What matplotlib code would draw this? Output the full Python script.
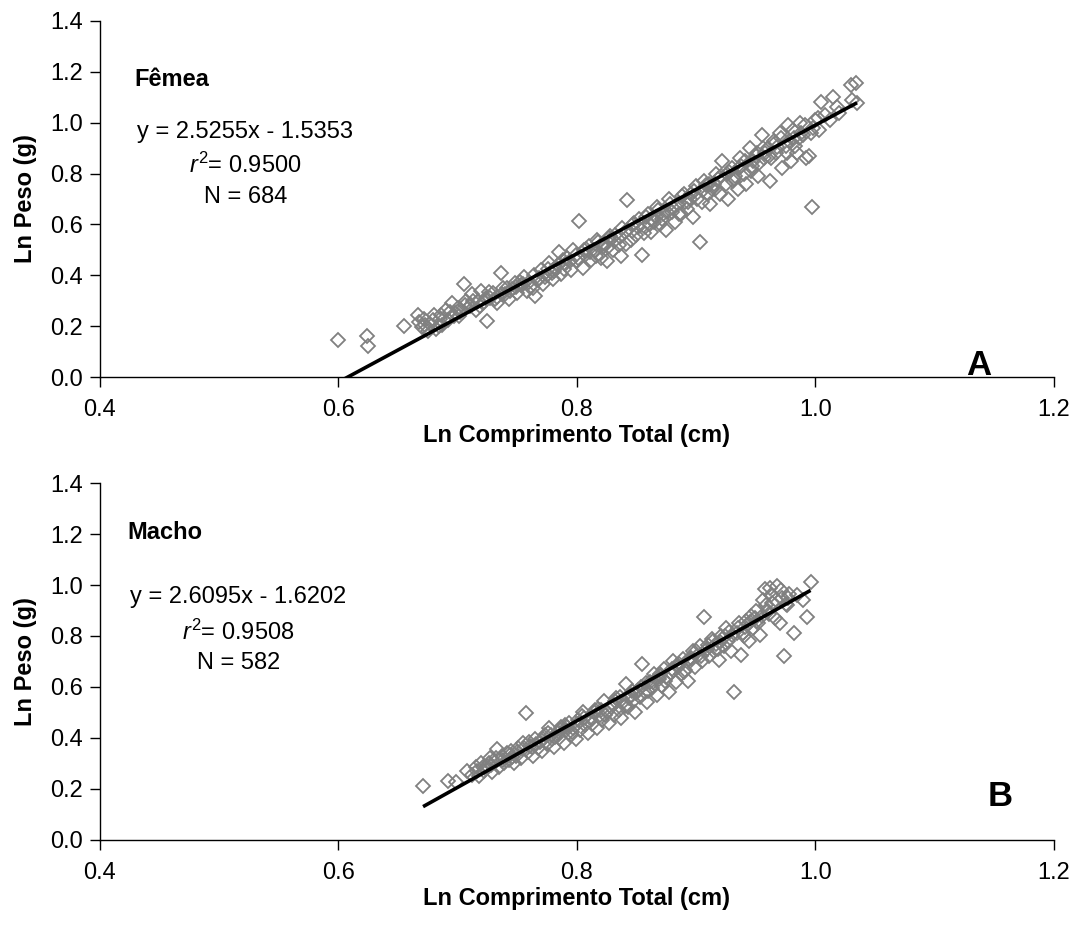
import matplotlib
matplotlib.use("Agg")
import matplotlib.pyplot as plt
import numpy as np

plt.rcParams["font.family"] = ["Liberation Sans", "DejaVu Sans"]
plt.rcParams["mathtext.fontset"] = "custom"
plt.rcParams["mathtext.rm"] = "Liberation Sans"
plt.rcParams["mathtext.it"] = "Liberation Sans:italic"

# Fêmea (A)
femea_x = [0.600, 0.624, 0.625, 0.655, 0.667, 0.668, 0.670, 0.672, 0.675, 0.677,
           0.680, 0.682, 0.685, 0.687, 0.690, 0.692, 0.695, 0.697, 0.700, 0.702,
           0.705, 0.707, 0.710, 0.712, 0.715, 0.717, 0.720, 0.722, 0.725, 0.727,
           0.730, 0.733, 0.736, 0.738, 0.740, 0.743, 0.746, 0.748, 0.750, 0.753,
           0.756, 0.758, 0.760, 0.763, 0.765, 0.768, 0.770, 0.772, 0.775, 0.777,
           0.780, 0.782, 0.785, 0.787, 0.790, 0.792, 0.795, 0.797, 0.800, 0.802,
           0.805, 0.807, 0.810, 0.812, 0.815, 0.817, 0.820, 0.822, 0.825, 0.827,
           0.830, 0.832, 0.835, 0.837, 0.840, 0.842, 0.845, 0.847, 0.850, 0.852,
           0.855, 0.857, 0.860, 0.862, 0.865, 0.867, 0.870, 0.872, 0.875, 0.877,
           0.880, 0.882, 0.885, 0.887, 0.890, 0.892, 0.895, 0.897, 0.900, 0.903,
           0.905, 0.907, 0.910, 0.912, 0.915, 0.917, 0.920, 0.922, 0.925, 0.927,
           0.930, 0.932, 0.935, 0.937, 0.940, 0.942, 0.945, 0.947, 0.950, 0.952,
           0.955, 0.957, 0.960, 0.962, 0.965, 0.967, 0.970, 0.972, 0.975, 0.977,
           0.980, 0.982, 0.985, 0.987, 0.990, 0.992, 0.995, 0.997, 1.000, 1.003,
           1.005, 1.008, 1.012, 1.015, 1.018, 1.020, 1.030, 1.034, 1.031, 1.035,
           0.684, 0.698, 0.711, 0.724, 0.741, 0.752, 0.764, 0.776, 0.788, 0.799,
           0.808, 0.818, 0.828, 0.838, 0.848, 0.858, 0.868, 0.878, 0.888, 0.898,
           0.908, 0.918, 0.928, 0.938, 0.948, 0.958, 0.968, 0.978, 0.988, 0.998,
           0.733, 0.781, 0.823, 0.863, 0.893, 0.913, 0.933, 0.953, 0.963, 0.983,
           0.673, 0.679, 0.686, 0.694, 0.701, 0.706, 0.713, 0.719, 0.726, 0.731,
           0.737, 0.744, 0.749, 0.755, 0.761, 0.767, 0.773, 0.779, 0.784, 0.789,
           0.794, 0.801, 0.806, 0.811, 0.816, 0.821, 0.826, 0.831, 0.836, 0.841,
           0.846, 0.851, 0.856, 0.861, 0.866, 0.871, 0.876, 0.881, 0.886, 0.891,
           0.896, 0.901, 0.906, 0.911, 0.916, 0.921, 0.926, 0.931, 0.936, 0.941,
           0.946, 0.951, 0.956, 0.961, 0.966, 0.971, 0.976, 0.981, 0.986, 0.991,
           0.996, 1.002]
femea_y = [0.145, 0.160, 0.122, 0.200, 0.243, 0.215, 0.195, 0.228, 0.180, 0.210,
           0.245, 0.190, 0.230, 0.205, 0.262, 0.225, 0.290, 0.240, 0.270, 0.255,
           0.365, 0.300, 0.280, 0.325, 0.265, 0.300, 0.340, 0.295, 0.222, 0.310,
           0.330, 0.290, 0.409, 0.350, 0.325, 0.305, 0.345, 0.370, 0.330, 0.360,
           0.395, 0.340, 0.375, 0.350, 0.320, 0.390, 0.420, 0.365, 0.400, 0.450,
           0.385, 0.430, 0.490, 0.405, 0.445, 0.470, 0.420, 0.500, 0.455, 0.615,
           0.430, 0.480, 0.515, 0.460, 0.495, 0.540, 0.470, 0.510, 0.455, 0.545,
           0.500, 0.560, 0.520, 0.475, 0.570, 0.695, 0.540, 0.600, 0.560, 0.620,
           0.480, 0.590, 0.640, 0.570, 0.610, 0.670, 0.600, 0.640, 0.580, 0.700,
           0.650, 0.610, 0.680, 0.640, 0.720, 0.660, 0.700, 0.630, 0.750, 0.530,
           0.690, 0.770, 0.720, 0.680, 0.760, 0.800, 0.720, 0.850, 0.760, 0.700,
           0.820, 0.780, 0.740, 0.860, 0.800, 0.760, 0.900, 0.830, 0.870, 0.790,
           0.950, 0.860, 0.900, 0.770, 0.930, 0.880, 0.960, 0.820, 0.910, 0.990,
           0.850, 0.940, 0.880, 1.000, 0.950, 0.860, 0.870, 0.668, 1.010, 0.970,
           1.080, 1.030, 1.010, 1.100, 1.060, 1.040, 1.148, 1.155, 1.090, 1.078,
           0.200, 0.250, 0.285, 0.310, 0.350, 0.375, 0.400, 0.425, 0.460, 0.480,
           0.505, 0.530, 0.555, 0.585, 0.605, 0.630, 0.655, 0.680, 0.710, 0.730,
           0.755, 0.780, 0.805, 0.830, 0.850, 0.880, 0.905, 0.930, 0.960, 0.980,
           0.315, 0.415, 0.525, 0.620, 0.690, 0.740, 0.790, 0.840, 0.860, 0.910,
           0.205, 0.225, 0.245, 0.255, 0.240, 0.285, 0.300, 0.280, 0.335, 0.305,
           0.325, 0.340, 0.355, 0.365, 0.355, 0.380, 0.395, 0.410, 0.440, 0.425,
           0.455, 0.470, 0.500, 0.490, 0.475, 0.525, 0.510, 0.535, 0.550, 0.525,
           0.575, 0.590, 0.565, 0.600, 0.630, 0.620, 0.650, 0.665, 0.640, 0.690,
           0.720, 0.700, 0.735, 0.760, 0.740, 0.790, 0.800, 0.770, 0.820, 0.850,
           0.810, 0.880, 0.900, 0.870, 0.920, 0.940, 0.880, 0.970, 0.940, 0.990,
           0.960, 1.020]

# Macho (B)
macho_x = [0.671, 0.692, 0.699, 0.708, 0.712, 0.715, 0.718, 0.720, 0.722, 0.725,
           0.727, 0.729, 0.731, 0.733, 0.735, 0.737, 0.739, 0.741, 0.743, 0.745,
           0.747, 0.749, 0.751, 0.753, 0.755, 0.757, 0.759, 0.761, 0.763, 0.765,
           0.767, 0.769, 0.771, 0.773, 0.775, 0.777, 0.779, 0.781, 0.783, 0.785,
           0.787, 0.789, 0.791, 0.793, 0.795, 0.797, 0.799, 0.801, 0.803, 0.805,
           0.807, 0.809, 0.811, 0.813, 0.815, 0.817, 0.819, 0.821, 0.823, 0.825,
           0.827, 0.829, 0.831, 0.833, 0.835, 0.837, 0.839, 0.841, 0.843, 0.845,
           0.847, 0.849, 0.851, 0.853, 0.855, 0.857, 0.859, 0.861, 0.863, 0.865,
           0.867, 0.869, 0.871, 0.873, 0.875, 0.877, 0.879, 0.881, 0.883, 0.885,
           0.887, 0.889, 0.891, 0.893, 0.895, 0.897, 0.899, 0.901, 0.903, 0.905,
           0.907, 0.909, 0.911, 0.913, 0.915, 0.917, 0.919, 0.921, 0.923, 0.925,
           0.927, 0.929, 0.932, 0.934, 0.936, 0.938, 0.940, 0.942, 0.944, 0.946,
           0.948, 0.950, 0.952, 0.954, 0.956, 0.958, 0.960, 0.962, 0.964, 0.966,
           0.968, 0.970, 0.972, 0.974, 0.976, 0.978, 0.982, 0.985, 0.990, 0.993,
           0.996,
           0.728, 0.746, 0.762, 0.778, 0.792, 0.806, 0.818, 0.832, 0.846, 0.858,
           0.870, 0.884, 0.896, 0.908, 0.920, 0.930, 0.941, 0.951, 0.961, 0.975,
           0.716, 0.721, 0.726, 0.732, 0.738, 0.744, 0.750, 0.756, 0.760, 0.766,
           0.772, 0.776, 0.782, 0.786, 0.790, 0.796, 0.800, 0.804, 0.810, 0.814,
           0.820, 0.824, 0.830, 0.836, 0.840, 0.844, 0.850, 0.854, 0.860, 0.864,
           0.870, 0.874, 0.880, 0.886, 0.890, 0.894, 0.900, 0.904, 0.910, 0.914,
           0.918, 0.924, 0.928, 0.935, 0.939, 0.945, 0.949, 0.955, 0.959, 0.963,
           0.967, 0.971, 0.977]
macho_y = [0.212, 0.231, 0.227, 0.270, 0.255, 0.285, 0.250, 0.300, 0.270, 0.290,
           0.320, 0.265, 0.305, 0.355, 0.285, 0.330, 0.300, 0.340, 0.315, 0.350,
           0.300, 0.330, 0.360, 0.320, 0.380, 0.498, 0.345, 0.370, 0.330, 0.395,
           0.360, 0.385, 0.350, 0.410, 0.375, 0.440, 0.395, 0.365, 0.420, 0.400,
           0.445, 0.380, 0.430, 0.460, 0.410, 0.440, 0.395, 0.470, 0.430, 0.500,
           0.450, 0.420, 0.480, 0.455, 0.510, 0.440, 0.490, 0.470, 0.545, 0.500,
           0.460, 0.520, 0.490, 0.555, 0.510, 0.480, 0.540, 0.610, 0.520, 0.570,
           0.545, 0.500, 0.590, 0.560, 0.690, 0.580, 0.540, 0.620, 0.595, 0.650,
           0.570, 0.630, 0.605, 0.670, 0.640, 0.580, 0.655, 0.700, 0.620, 0.680,
           0.650, 0.710, 0.665, 0.625, 0.700, 0.740, 0.680, 0.720, 0.760, 0.700,
           0.874, 0.750, 0.720, 0.790, 0.740, 0.770, 0.705, 0.800, 0.760, 0.830,
           0.780, 0.740, 0.580, 0.810, 0.850, 0.725, 0.800, 0.860, 0.780, 0.880,
           0.830, 0.900, 0.850, 0.805, 0.940, 0.985, 0.900, 0.990, 0.930, 0.870,
           0.995, 0.850, 0.950, 0.720, 0.920, 0.965, 0.810, 0.960, 0.940, 0.874,
           1.010,
           0.295, 0.325, 0.365, 0.410, 0.445, 0.480, 0.515, 0.545, 0.585, 0.615,
           0.645, 0.685, 0.715, 0.745, 0.775, 0.805, 0.835, 0.860, 0.885, 0.925,
           0.270, 0.285, 0.300, 0.320, 0.315, 0.335, 0.345, 0.360, 0.385, 0.375,
           0.395, 0.420, 0.405, 0.430, 0.450, 0.425, 0.455, 0.485, 0.465, 0.500,
           0.510, 0.490, 0.530, 0.560, 0.525, 0.555, 0.575, 0.600, 0.585, 0.620,
           0.650, 0.625, 0.670, 0.690, 0.660, 0.710, 0.740, 0.720, 0.765, 0.780,
           0.750, 0.800, 0.815, 0.830, 0.810, 0.855, 0.870, 0.880, 0.920, 0.960,
           0.940, 0.980, 0.950]

# regression coefficients (slope, intercept), r² and N per panel
slopes = [2.5255, 2.6095]
intercepts = [-1.5353, -1.6202]
r2_values = [0.9500, 0.9508]
n_values = [684, 582]
panel_names = ["Fêmea", "Macho"]
panel_letters = ["A", "B"]

x_ticks = [0.4, 0.6, 0.8, 1.0, 1.2]
y_ticks = [0.0, 0.2, 0.4, 0.6, 0.8, 1.0, 1.2, 1.4]

fig = plt.figure(figsize=(10.83, 9.33), dpi=100)
ax_a = fig.add_axes([0.0923, 0.5959, 0.8807, 0.3816])
ax_b = fig.add_axes([0.0923, 0.0997, 0.8807, 0.3826])

panels = [(ax_a, femea_x, femea_y), (ax_b, macho_x, macho_y)]
# text anchor positions in data units: name, equation block, letter
name_pos = [(0.429, 1.171), (0.423, 1.204)]
eq_pos = [(0.522, 0.963, 0.833, 0.707), (0.516, 0.953, 0.816, 0.694)]
letter_pos = [(1.137, 0.045), (1.155, 0.17)]

fs = 17

for i, (ax, xs, ys) in enumerate(panels):
    xs = np.array(xs)
    ys = np.array(ys)
    ax.plot(xs, ys, linestyle="none", marker="D", markersize=7.5,
            markerfacecolor="none", markeredgecolor="#808080",
            markeredgewidth=1.3, clip_on=False, zorder=2)

    fx = np.array([xs.min(), xs.max()])
    ax.plot(fx, slopes[i] * fx + intercepts[i], color="black", lw=2.6,
            solid_capstyle="butt", zorder=3)

    ax.set_xlim(0.4, 1.2)
    ax.set_ylim(0.0, 1.4)
    ax.set_xticks(x_ticks)
    ax.set_yticks(y_ticks)
    ax.set_xticklabels([f"{t:.1f}" for t in x_ticks])
    ax.set_yticklabels([f"{t:.1f}" for t in y_ticks])
    ax.tick_params(direction="out", length=7, width=1, labelsize=fs,
                   colors="black")
    ax.tick_params(axis="x", pad=9)
    ax.tick_params(axis="y", pad=5)
    for side in ["top", "right"]:
        ax.spines[side].set_visible(False)
    for side in ["left", "bottom"]:
        ax.spines[side].set_linewidth(1)

    ax.set_xlabel("Ln Comprimento Total (cm)", fontsize=fs, fontweight="bold",
                  labelpad=2)
    ax.set_ylabel("Ln Peso (g)", fontsize=fs, fontweight="bold", labelpad=10)

    nx, ny = name_pos[i]
    ax.text(nx, ny, panel_names[i], fontsize=fs, fontweight="bold",
            ha="left", va="center")
    ex, ey1, ey2, ey3 = eq_pos[i]
    ax.text(ex, ey1, f"y = {slopes[i]:.4f}x - {abs(intercepts[i]):.4f}",
            fontsize=fs, ha="center", va="center")
    ax.text(ex, ey2, r"$\mathit{r}^{2}$" + f"= {r2_values[i]:.4f}",
            fontsize=fs, ha="center", va="center")
    ax.text(ex, ey3, f"N = {n_values[i]}", fontsize=fs, ha="center",
            va="center")
    lx, ly = letter_pos[i]
    ax.text(lx, ly, panel_letters[i], fontsize=25, fontweight="bold",
            ha="center", va="center")

fig.savefig("out.png", dpi=100, facecolor="white")
